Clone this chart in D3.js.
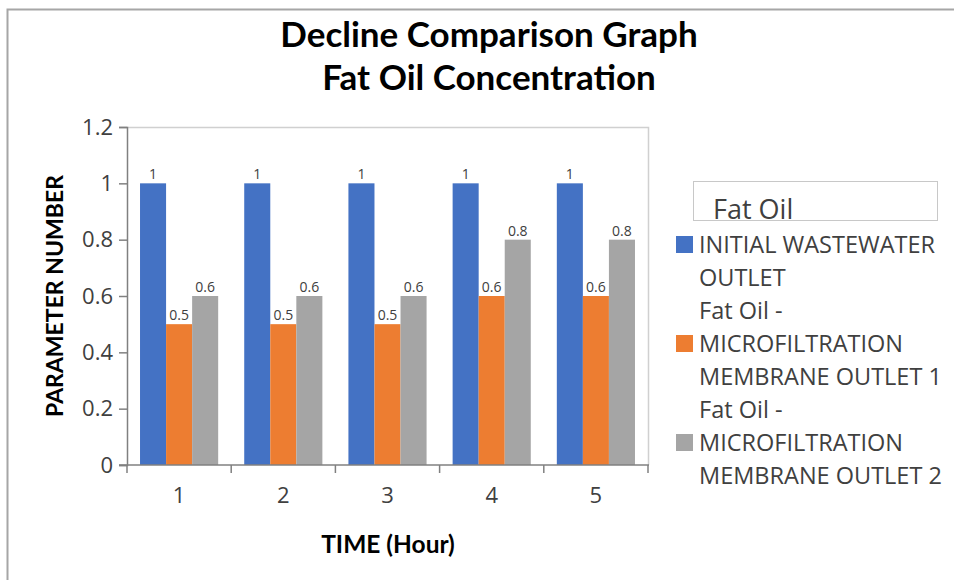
<!DOCTYPE html>
<html><head><meta charset="utf-8">
<script src="https://cdn.jsdelivr.net/npm/d3@7"></script>
<style>body{margin:0;background:#fff}svg{display:block}</style>
</head><body><svg id="c" width="954" height="580"></svg>
<script>
const categories = ["1","2","3","4","5"];
const seriesNames = ["INITIAL WASTEWATER OUTLET","Fat Oil - MICROFILTRATION MEMBRANE OUTLET 1","Fat Oil - MICROFILTRATION MEMBRANE OUTLET 2"];
const initialOutlet = [1,1,1,1,1];
const membraneOutlet1 = [0.5,0.5,0.5,0.6,0.6];
const membraneOutlet2 = [0.6,0.6,0.6,0.8,0.8];
const yTicks = [0,0.2,0.4,0.6,0.8,1,1.2];
const legendLines = [["INITIAL WASTEWATER","OUTLET"],["Fat Oil -","MICROFILTRATION","MEMBRANE OUTLET 1"],["Fat Oil -","MICROFILTRATION","MEMBRANE OUTLET 2"]];
const legendSquareLine = [0,1,1];
const colors = ["#4472C4","#ED7D31","#A5A5A5"];
const titleLines = ["Decline Comparison Graph","Fat Oil Concentration"];

(function(){
const svg = d3.select("#c");
const pL=127, pR=648, pT=127, pB=465;
const series = [initialOutlet, membraneOutlet1, membraneOutlet2];
const txt = "'Open Sans', sans-serif";
const bold = "Lato, 'Open Sans', sans-serif";

svg.append("path").attr("d","M7.5,580 L7.5,9.5 L954,9.5").attr("fill","none").attr("stroke","#a6a6a6").attr("stroke-width",2);

svg.selectAll("text.title").data(titleLines).join("text").attr("class","title")
  .attr("x",489).attr("y",(d,i)=>47+i*43).attr("text-anchor","middle")
  .attr("font-family",bold).attr("font-weight","bold")
  .attr("font-size",35).attr("fill","#000").text(d=>d);

const x = d3.scaleBand().domain(categories).range([pL,pR]).paddingInner(0).paddingOuter(0);
const x1 = d3.scaleBand().domain(d3.range(series.length)).range([0,x.bandwidth()]).paddingInner(0).paddingOuter(0.5);
const y = d3.scaleLinear().domain([0,1.2]).range([pB,pT]);

svg.append("path").attr("d",`M${pL},${pT+0.5} L${pR+0.5},${pT+0.5} L${pR+0.5},${pB}`)
  .attr("fill","none").attr("stroke","#d0d0d0").attr("stroke-width",1.5);

const groups = svg.append("g").selectAll("g").data(categories).join("g")
  .attr("transform",d=>`translate(${x(d)},0)`);
groups.selectAll("rect").data((d,i)=>series.map((s,k)=>({k,v:s[i]}))).join("rect")
  .attr("x",d=>x1(d.k)).attr("width",x1.bandwidth())
  .attr("y",d=>y(d.v)).attr("height",d=>pB-y(d.v)).attr("fill",d=>colors[d.k]);
groups.selectAll("text").data((d,i)=>series.map((s,k)=>({k,v:s[i]}))).join("text")
  .attr("x",d=>x1(d.k)+x1.bandwidth()/2).attr("y",d=>y(d.v)-4)
  .attr("text-anchor","middle").attr("font-family",txt).attr("font-size",14)
  .attr("fill","#404040").text(d=>d.v);

const ya = svg.append("g").attr("transform",`translate(${pL},0)`)
  .call(d3.axisLeft(y).tickValues(yTicks).tickSize(8).tickPadding(6).tickFormat(d=>String(d)));
ya.select(".domain").attr("stroke","#808080").attr("stroke-width",1.5);
ya.selectAll(".tick line").attr("stroke","#808080").attr("stroke-width",1.5);
ya.selectAll(".tick text").attr("font-family",txt).attr("font-size",22).attr("fill","#404040");

const xa = svg.append("g").attr("transform",`translate(0,${pB})`)
  .call(d3.axisBottom(x).tickSize(0).tickPadding(22));
xa.select(".domain").attr("stroke","#808080").attr("stroke-width",1.5).attr("d",`M${pL-8},0H${pR+1}`);
xa.selectAll(".tick text").attr("font-family",txt).attr("font-size",22).attr("fill","#404040");
const bounds = categories.map(c=>x(c)).concat([x(categories[categories.length-1])+x.bandwidth()]);
xa.selectAll("line.sep").data(bounds).join("line").attr("class","sep")
  .attr("x1",d=>d).attr("x2",d=>d).attr("y1",0).attr("y2",8).attr("stroke","#808080").attr("stroke-width",1.5);

svg.append("text").attr("transform",`translate(63,${(pT+pB)/2}) rotate(-90)`)
  .attr("text-anchor","middle").attr("font-family",bold).attr("font-weight","bold")
  .attr("font-size",23).attr("fill","#000").text("PARAMETER NUMBER");
svg.append("text").attr("x",388).attr("y",553).attr("text-anchor","middle")
  .attr("font-family",bold).attr("font-weight","bold").attr("font-size",24.5).attr("fill","#000")
  .text("TIME (Hour)");

const lg = svg.append("g");
lg.append("rect").attr("x",693.5).attr("y",181.5).attr("width",244).attr("height",39).attr("fill","#fff").attr("stroke","#c8c8c8");
lg.append("text").attr("x",713).attr("y",219).attr("font-family",txt).attr("font-size",27).attr("fill","#404040").text("Fat Oil");
let row = 0;
legendLines.forEach((lines,i)=>{
  lines.forEach((t,j)=>{
    const yy = 253 + row*33;
    if(j===legendSquareLine[i]) lg.append("rect").attr("x",676).attr("y",yy-17).attr("width",17).attr("height",17).attr("fill",colors[i]);
    lg.append("text").attr("x",699).attr("y",yy).attr("font-family",txt).attr("font-size",23.5).attr("fill","#404040").text(t);
    row++;
  });
});
})();
</script></body></html>
